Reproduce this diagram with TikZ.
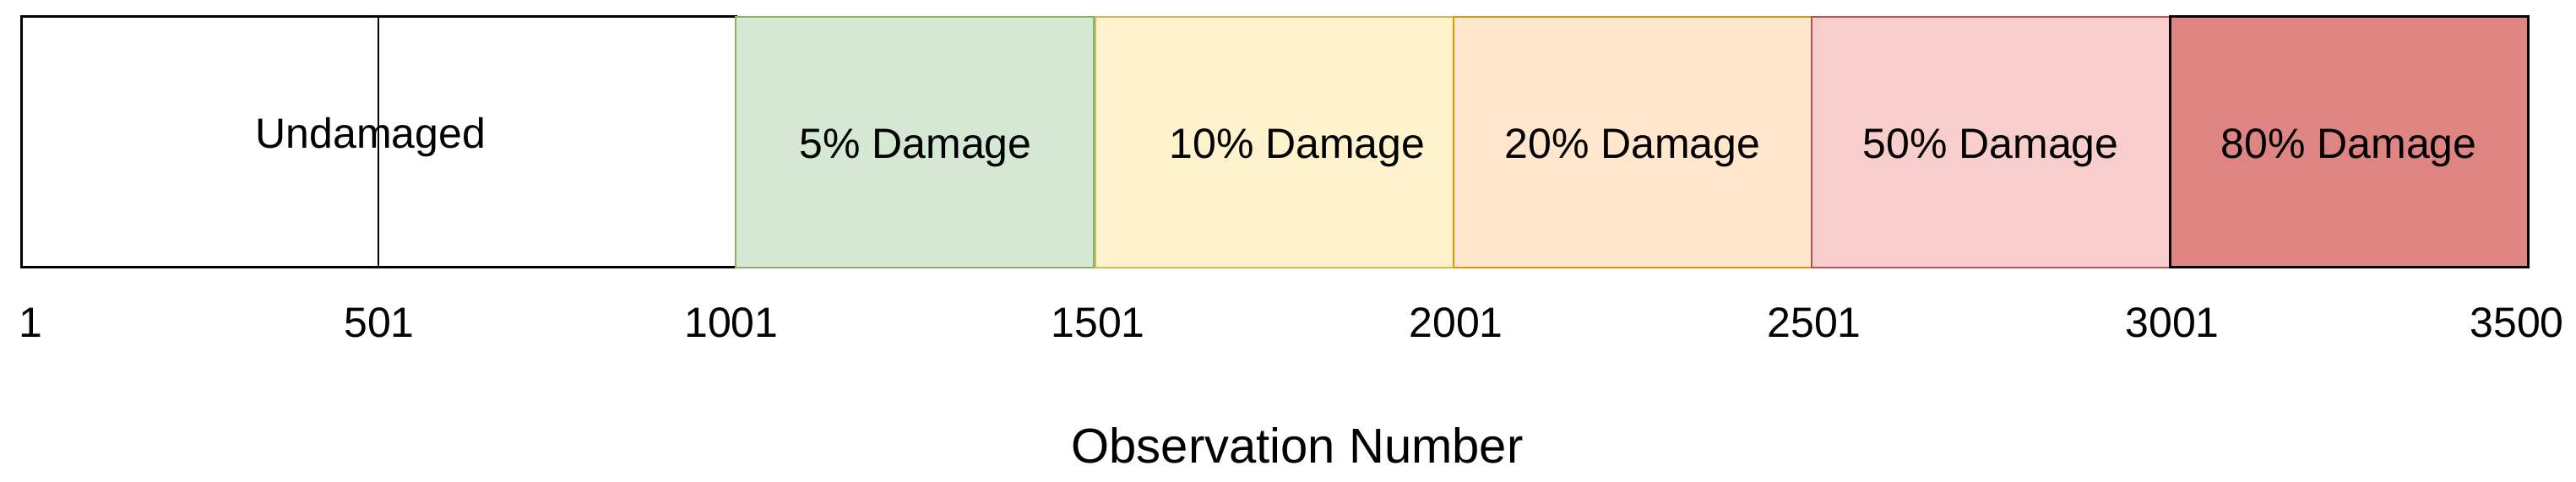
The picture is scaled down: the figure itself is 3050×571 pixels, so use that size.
\documentclass[tikz,border=0pt]{standalone}
\usepackage{fontspec}
\setmainfont{Liberation Sans}
\usetikzlibrary{calc}
\definecolor{gfill}{HTML}{D5E8D4}
\definecolor{gdraw}{HTML}{82B366}
\definecolor{yfill}{HTML}{FFF2CC}
\definecolor{ydraw}{HTML}{D6B656}
\definecolor{ofill}{HTML}{FFE6CC}
\definecolor{odraw}{HTML}{D79B00}
\definecolor{rfill}{HTML}{F8CECC}
\definecolor{rdraw}{HTML}{B85450}
\definecolor{dfill}{HTML}{DE8482}
\tikzset{
  seg/.style={rectangle, inner sep=0pt, outer sep=0pt, anchor=north west,
    minimum height=89.1pt, minimum width=127.2pt, line width=0.7pt},
  lbl/.style={inner sep=0pt, anchor=base, font=\fontsize{15pt}{18pt}\selectfont},
  tick/.style={inner sep=0pt, anchor=base, font=\fontsize{15pt}{18pt}\selectfont},
  axis/.style={inner sep=0pt, anchor=base, font=\fontsize{17.4pt}{21pt}\selectfont}
}
\begin{document}
\begin{tikzpicture}[x=0.3pt,y=-0.3pt]
\useasboundingbox (0,0) rectangle (3050,571);
\node[seg, draw=black, fill=white, minimum width=253.8pt, line width=0.9pt] (u) at (25,20) {};
\draw[line width=0.5pt] ($(u.north west)!0.5!(u.north east)$) coordinate (mtop) -- ($(u.south west)!0.5!(u.south east)$) coordinate (mbot);
\node[seg, draw=gdraw, fill=gfill] (d5) at (871,20) {};
\node[seg, draw=ydraw, fill=yfill] (d10) at (1297,20) {};
\node[seg, draw=odraw, fill=ofill] (d20) at (1721,20) {};
\node[seg, draw=rdraw, fill=rfill] (d50) at (2145,20) {};
\node[seg, draw=black, fill=dfill, line width=0.9pt] (d80) at (2569,20) {};
\node[lbl] (lu) at (439,176) {Undamaged};
\node[lbl] (l5) at (1084,188) {5\% Damage};
\node[lbl] (l10) at (1536,188) {10\% Damage};
\node[lbl] (l20) at (1933,188) {20\% Damage};
\node[lbl] (l50) at (2357,188) {50\% Damage};
\node[lbl] (l80) at (2781,188) {80\% Damage};
\node[tick, anchor=base west] (t1) at (22,399) {1};
\node[tick] (t501) at (449,399) {501};
\node[tick] (t1001) at (866,399) {1001};
\node[tick] (t1501) at (1300,399) {1501};
\node[tick] (t2001) at (1724,399) {2001};
\node[tick] (t2501) at (2148,399) {2501};
\node[tick] (t3001) at (2572,399) {3001};
\node[tick] (t3500) at (2980,399) {3500};
\node[axis] (ax) at (1536,549) {Observation Number};
\end{tikzpicture}
\end{document}
